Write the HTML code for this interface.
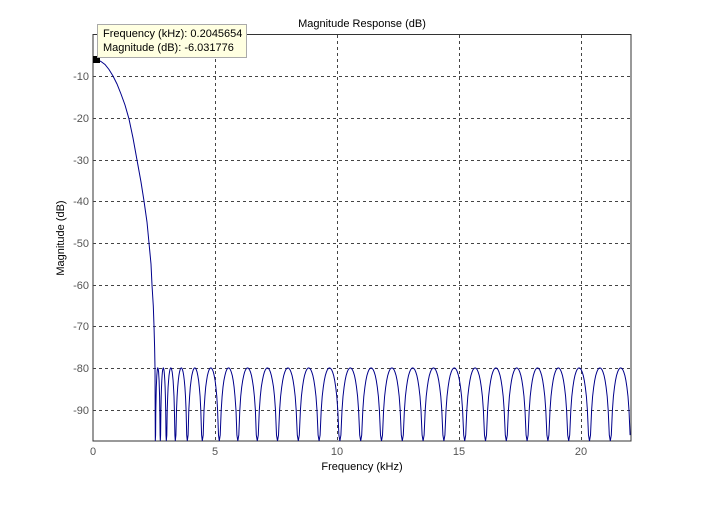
<!DOCTYPE html>
<html><head><style>
body{margin:0;background:#fff;width:712px;height:512px;overflow:hidden}
svg{font-family:"Liberation Sans",sans-serif;font-size:11px}
</style></head><body>
<svg id="s" width="712" height="512" xmlns="http://www.w3.org/2000/svg">
<rect x="93" y="34.5" width="538" height="406.5" fill="#fff" stroke="#333" stroke-width="1"/>
<g stroke="#444" stroke-dasharray="3,3" stroke-width="1">
<line x1="215.5" y1="35" x2="215.5" y2="441"/><line x1="337.5" y1="35" x2="337.5" y2="441"/>
<line x1="459.5" y1="35" x2="459.5" y2="441"/><line x1="581.5" y1="35" x2="581.5" y2="441"/>
<line x1="93" y1="76.5" x2="631" y2="76.5"/><line x1="93" y1="118.5" x2="631" y2="118.5"/>
<line x1="93" y1="160.5" x2="631" y2="160.5"/><line x1="93" y1="201.5" x2="631" y2="201.5"/>
<line x1="93" y1="243.5" x2="631" y2="243.5"/><line x1="93" y1="285.5" x2="631" y2="285.5"/>
<line x1="93" y1="326.5" x2="631" y2="326.5"/><line x1="93" y1="368.5" x2="631" y2="368.5"/>
<line x1="93" y1="410.5" x2="631" y2="410.5"/>
</g>
<g fill="#555" text-anchor="end">
<text x="89" y="80">-10</text><text x="89" y="122">-20</text><text x="89" y="164">-30</text>
<text x="89" y="205">-40</text><text x="89" y="247">-50</text><text x="89" y="289">-60</text>
<text x="89" y="330">-70</text><text x="89" y="372">-80</text><text x="89" y="414">-90</text>
</g>
<g fill="#555" text-anchor="middle">
<text x="93" y="455">0</text><text x="215" y="455">5</text><text x="337" y="455">10</text>
<text x="459" y="455">15</text><text x="581" y="455">20</text>
</g>
<text x="362" y="27" text-anchor="middle">Magnitude Response (dB)</text>
<text x="362" y="470" text-anchor="middle">Frequency (kHz)</text>
<text transform="translate(64,238) rotate(-90)" text-anchor="middle">Magnitude (dB)</text>
<path id="c" fill="none" stroke="#00008b" stroke-width="1"/>
<rect x="93" y="56" width="7" height="7" fill="#000"/>
<rect x="97.5" y="24.5" width="149" height="33" fill="#ffffe1" stroke="#aaa"/>
<text x="103" y="37">Frequency (kHz): 0.2045654</text>
<text x="103" y="51">Magnitude (dB): -6.031776</text>
</svg>
<script>
var y=function(d){return 34.3-d*4.17};
var p="M93,59 L97,59.5 L101,61.5 L105,64.5 L109,69.5 L113,76 L117,84 L121,94 L125,105 L129,119 L133,138 L137,160 L141,182 L144,201 L147,222 L149,243 L151,264 L152,285 L153.3,306 L154,326 L154.6,347 L155,368 L155.3,441";
var x=155.3,sp=[5,6,9,12,15,17,18.5,19.5,20.2];var i=0;
while(x<631){var w=i<sp.length?sp[i]:20.8;i++;
 for(var t=0;t<=1.0001;t+=0.05){var xx=x+t*w;if(xx>631)break;var s=Math.abs(Math.sin(Math.PI*t));var d=-80+20*Math.log10(Math.max(s,1e-6));if(d<-97.5)d=-97.5;p+=" L"+xx.toFixed(1)+","+y(d).toFixed(1);}
 x+=w;}
document.getElementById("c").setAttribute("d",p);
</script>
</body></html>
